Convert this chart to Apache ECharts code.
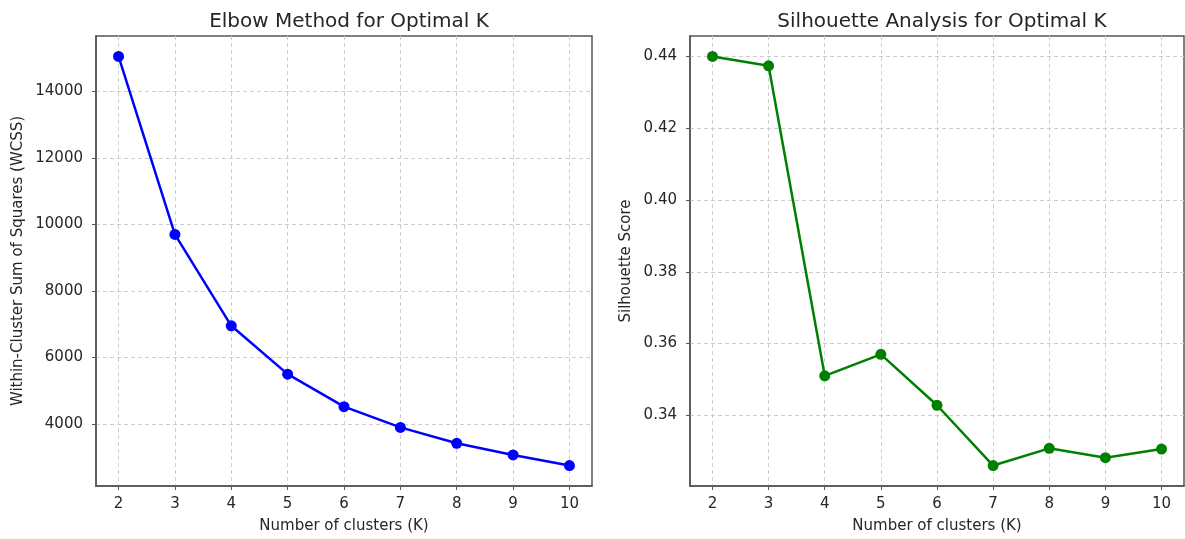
<!DOCTYPE html>
<html>
<head>
<meta charset="utf-8">
<script src="https://cdn.jsdelivr.net/npm/echarts@6/dist/echarts.min.js"></script>
<style>
html,body{margin:0;padding:0;background:#fff;}
#chart{width:1185px;height:539px;}
</style>
</head>
<body>
<div id="chart"></div>
<script>
// Data
const kValues = [2, 3, 4, 5, 6, 7, 8, 9, 10];
const wcss = [15047, 9700, 6953, 5500, 4524, 3900, 3422, 3072, 2754];
const silhouette = [0.4400, 0.4374, 0.3510, 0.3570, 0.3428, 0.3260, 0.3308, 0.3282, 0.3306];
const wcssTicks = [4000, 6000, 8000, 10000, 12000, 14000];
const silTicks = [0.34, 0.36, 0.38, 0.40, 0.42, 0.44];
const titles = ['Elbow Method for Optimal K', 'Silhouette Analysis for Optimal K'];
const xName = 'Number of clusters (K)';
const yNames = ['Within-Cluster Sum of Squares (WCSS)', 'Silhouette Score'];

function margin(arr) {
  const lo = Math.min(...arr), hi = Math.max(...arr);
  const m = (hi - lo) * 0.05;
  return [lo - m, hi + m];
}
const xr = margin(kValues);
const wr = margin(wcss);
const sr = margin(silhouette);

const FONT = 'DejaVu Sans';
const TXT = '#262626';
const AX = '#555555';
const gridLine = {show: true, lineStyle: {color: '#cdcdcd', width: 1, type: [4, 3]}};

function xAxis(gi) {
  return {
    type: 'value', gridIndex: gi, min: xr[0], max: xr[1],
    name: xName, nameLocation: 'middle', nameGap: 33,
    nameTextStyle: {fontFamily: FONT, fontSize: 15, color: TXT},
    axisLine: {show: true, onZero: false, lineStyle: {color: AX, width: 1.5}},
    axisTick: {show: true, length: 4, customValues: kValues, lineStyle: {color: AX}},
    axisLabel: {customValues: kValues, margin: 11, fontFamily: FONT, fontSize: 15, color: TXT},
    splitLine: gridLine
  };
}
function yAxis(gi, ticks, r, name, gap, fmt) {
  return {
    type: 'value', gridIndex: gi, min: r[0], max: r[1],
    name: name, nameLocation: 'middle', nameGap: gap,
    nameTextStyle: {fontFamily: FONT, fontSize: 15, color: TXT},
    axisLine: {show: true, onZero: false, lineStyle: {color: AX, width: 1.5}},
    axisTick: {show: true, length: 4, customValues: ticks, lineStyle: {color: AX}},
    axisLabel: {customValues: ticks, margin: 13, fontFamily: FONT, fontSize: 15, color: TXT, formatter: fmt},
    splitLine: gridLine
  };
}

const option = {
  animation: false,
  backgroundColor: '#ffffff',
  title: [
    {text: titles[0], left: 344, top: 7, textAlign: 'center',
     textStyle: {fontFamily: FONT, fontSize: 20, fontWeight: 'normal', color: TXT}},
    {text: titles[1], left: 937, top: 7, textAlign: 'center',
     textStyle: {fontFamily: FONT, fontSize: 20, fontWeight: 'normal', color: TXT}}
  ],
  grid: [
    {left: 96, top: 36, width: 496, height: 452, show: true, borderColor: AX, borderWidth: 1.5, backgroundColor: 'transparent'},
    {left: 690, top: 36, width: 494, height: 452, show: true, borderColor: AX, borderWidth: 1.5, backgroundColor: 'transparent'}
  ],
  xAxis: [xAxis(0), xAxis(1)],
  yAxis: [
    yAxis(0, wcssTicks, wr, yNames[0], 70, v => String(Math.round(v))),
    yAxis(1, silTicks, sr, yNames[1], 56, v => v.toFixed(2))
  ],
  series: [
    {type: 'line', xAxisIndex: 0, yAxisIndex: 0,
     data: kValues.map((k, i) => [k, wcss[i]]),
     symbol: 'circle', symbolSize: 11,
     lineStyle: {color: '#0000ff', width: 2.5}, itemStyle: {color: '#0000ff'}},
    {type: 'line', xAxisIndex: 1, yAxisIndex: 1,
     data: kValues.map((k, i) => [k, silhouette[i]]),
     symbol: 'circle', symbolSize: 11,
     lineStyle: {color: '#008000', width: 2.5}, itemStyle: {color: '#008000'}}
  ]
};
const chart = echarts.init(document.getElementById('chart'), null, {renderer: 'canvas'});
chart.setOption(option);
</script>
</body>
</html>
